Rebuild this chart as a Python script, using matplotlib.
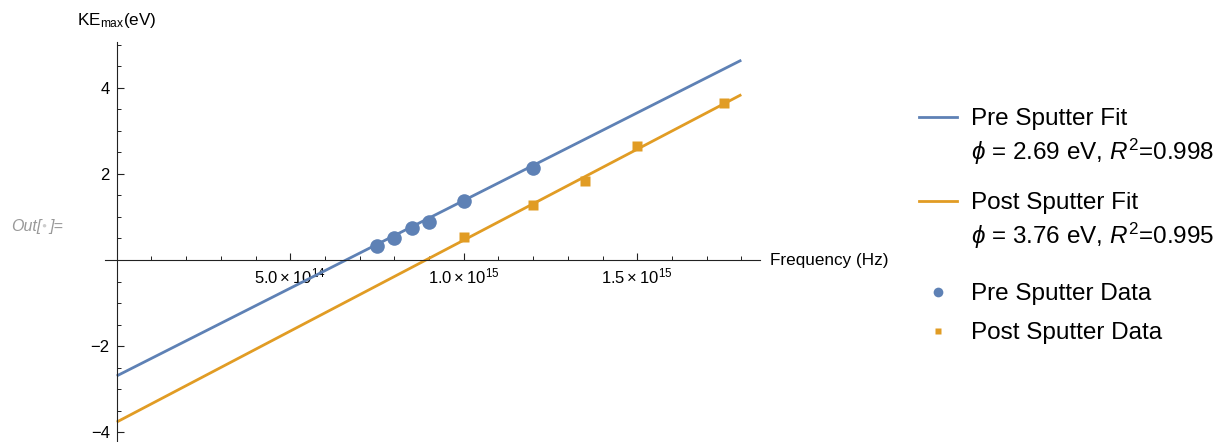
import matplotlib
matplotlib.use('Agg')
import matplotlib.pyplot as plt
import numpy as np
from matplotlib.lines import Line2D
from matplotlib.ticker import FixedLocator, FixedFormatter

plt.rcParams['font.family'] = ['Liberation Sans', 'DejaVu Sans']
plt.rcParams['mathtext.fontset'] = 'custom'
plt.rcParams['mathtext.rm'] = 'Liberation Sans'
plt.rcParams['mathtext.it'] = 'Liberation Sans:italic'
plt.rcParams['mathtext.bf'] = 'Liberation Sans:bold'

# measured data (Hz, eV)
pre_freq = [7.5e14, 8.0e14, 8.5e14, 9.0e14, 1.0e15, 1.2e15]
pre_ke = [0.33, 0.50, 0.735, 0.89, 1.38, 2.14]
post_freq = [1.0e15, 1.2e15, 1.35e15, 1.5e15, 1.75e15]
post_ke = [0.53, 1.27, 1.83, 2.645, 3.65]

# fit results
fit_slope = [4.07e-15, 4.22e-15]
fit_phi = [2.69, 3.76]
fit_r2 = [0.998, 0.995]
fit_names = ['Pre Sputter Fit', 'Post Sputter Fit']
data_names = ['Pre Sputter Data', 'Post Sputter Data']
f_range = [0, 1.8e15]

x_tick_vals = [5e14, 1e15, 1.5e15]
x_tick_labels = [r'$5.0\times10^{14}$', r'$1.0\times10^{15}$', r'$1.5\times10^{15}$']
y_tick_vals = [-4, -2, 2, 4]
y_tick_labels = ['\u22124', '\u22122', '2', '4']

blue = '#5E81B5'
orange = '#E19C24'
colors = [blue, orange]

W, H = 1228, 442
fig = plt.figure(figsize=(W / 100, H / 100), dpi=100)


def fx(p):
    return p / W


def fy(p):
    return 1 - p / H


# pixel -> data mapping
x0p, xscale = 116.7, 347 / 1e15
y0p, yscale = 260, 43.1

ax = fig.add_axes([fx(105), 0, (760 - 105) / W, 400 / H])
ax.set_xlim((105 - x0p) / xscale, (760 - x0p) / xscale)
ax.set_ylim((y0p - 442) / yscale, (y0p - 42) / yscale)

for slope, phi, c in zip(fit_slope, fit_phi, colors):
    f = np.array(f_range)
    ax.plot(f, slope * f - phi, color=c, lw=2.0, solid_capstyle='butt', zorder=2)

ax.plot(pre_freq, pre_ke, 'o', ms=10.5, color=blue, mec='none', zorder=3)
ax.plot(post_freq, post_ke, 's', ms=7.3, color=orange, mec='none', zorder=3)

for s in ['top', 'right']:
    ax.spines[s].set_visible(False)
ax.spines['left'].set_position(('data', 0))
ax.spines['bottom'].set_position(('data', 0))
for s in ['left', 'bottom']:
    ax.spines[s].set_linewidth(0.8)
    ax.spines[s].set_color('#222222')

ax.xaxis.set_major_locator(FixedLocator(x_tick_vals))
ax.xaxis.set_major_formatter(FixedFormatter(x_tick_labels))
ax.xaxis.set_minor_locator(FixedLocator(np.arange(1, 19) * 1e14))
ax.yaxis.set_major_locator(FixedLocator(y_tick_vals))
ax.yaxis.set_major_formatter(FixedFormatter(y_tick_labels))
ax.yaxis.set_minor_locator(FixedLocator([v for v in np.arange(-4, 5.01, 0.5) if v != 0]))
ax.tick_params(which='major', direction='in', length=5, width=0.8, color='#222222',
               labelsize=12, pad=5)
ax.tick_params(which='minor', direction='in', length=3, width=0.7, color='#222222')

fig.text(fx(77), fy(20), r'KE$_{\mathrm{max}}$(eV)', fontsize=12.3, ha='left', va='center')
fig.text(fx(770), fy(261), 'Frequency (Hz)', fontsize=12.3, ha='left', va='center')

# Out[ ]= cell label
fig.text(fx(11), fy(231), 'Out[', fontsize=11.5, style='italic', color='#999999', ha='left', va='baseline')
fig.text(fx(44), fy(226), '\u25cf', fontsize=6, color='#cccccc', ha='center', va='center')
fig.text(fx(49), fy(231), ']=', fontsize=11.5, style='italic', color='#999999', ha='left', va='baseline')

# legend
lx0, lx1, tx = 919, 957, 970.7
fit_rows = [(125.3, 160), (209.3, 244)]
for name, phi, r2, c, (b1, b2) in zip(fit_names, fit_phi, fit_r2, colors, fit_rows):
    fig.add_artist(Line2D([fx(lx0), fx(lx1)], [fy(b1 - 8), fy(b1 - 8)], color=c, lw=2.0,
                          transform=fig.transFigure))
    fig.text(fx(tx), fy(b1), name, fontsize=17.5, ha='left', va='baseline')
    fig.text(fx(tx), fy(b2), r'$\phi$ = %.2f eV, $R^2$=%.3f' % (phi, r2),
             fontsize=17.5, ha='left', va='baseline')

data_rows = [300, 339.3]
for name, mk, ms, c, b in zip(data_names, ['o', 's'], [7, 5], colors, data_rows):
    fig.add_artist(Line2D([fx(938)], [fy(b - 8)], marker=mk, ms=ms, color=c, mec='none',
                          ls='none', transform=fig.transFigure))
    fig.text(fx(tx), fy(b), name, fontsize=17.5, ha='left', va='baseline')

fig.savefig('out.png', dpi=100)
